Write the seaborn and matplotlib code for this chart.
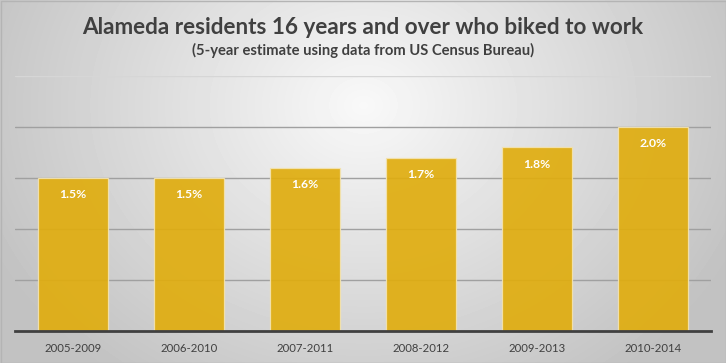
import numpy as np
import pandas as pd
import matplotlib
matplotlib.use("Agg")
import matplotlib.pyplot as plt
import seaborn as sns

# ─── Data ────────────────────────────────────────────────────────────────────
periods = ["2005-2009", "2006-2010", "2007-2011", "2008-2012", "2009-2013", "2010-2014"]
share_biked = [1.5, 1.5, 1.6, 1.7, 1.8, 2.0]   # percent of residents
bar_labels = [f"{v:.1f}%" for v in share_biked]

TITLE = "Alameda residents 16 years and over who biked to work"
SUBTITLE = "(5-year estimate using data from US Census Bureau)"

df = pd.DataFrame({"period": periods, "share": share_biked})

sns.set_theme(style="white")
plt.rcParams["font.family"] = ["Lato", "DejaVu Sans"]

W, H = 726, 363
fig = plt.figure(figsize=(W / 100, H / 100), dpi=100)

# radial grey backdrop, brightest near top centre
bg = fig.add_axes([0, 0, 1, 1], zorder=0)
yy, xx = np.mgrid[0:H, 0:W]
dist = np.sqrt(((xx - 363) / 363) ** 2 + ((yy - 105) / 300) ** 2)
shade = np.clip(0.975 - 0.19 * dist, 0.76, 1.0)
bg.imshow(shade, cmap="gray", vmin=0, vmax=1, aspect="auto",
          extent=[0, W, H, 0], interpolation="bilinear")
bg.set_xlim(0, W)
bg.set_ylim(H, 0)
bg.axis("off")
bg.add_patch(plt.Rectangle((0.5, 0.5), W - 1, H - 1, fill=False,
                           edgecolor="#b4b4b4", linewidth=1))

ax = fig.add_axes([15 / W, (H - 331) / H, (711 - 15) / W, (331 - 76) / H], zorder=1)
ax.patch.set_alpha(0)

# gridlines sit under the translucent bars
for g in [0.5, 1.0, 1.5, 2.0]:
    ax.axhline(g, color="#a0a0a0", linewidth=1.0, zorder=0.5)
ax.axhline(2.5, color="#d6d6d6", linewidth=1.0, zorder=0.5)

sns.barplot(data=df, x="period", y="share", color="#e0ad0f", width=0.6,
            saturation=1, alpha=0.92, edgecolor="#f3e3b0", linewidth=0.9,
            zorder=1, ax=ax)

ax.bar_label(ax.containers[0], labels=bar_labels, padding=-16,
             color="white", fontsize=8.8, fontweight="bold")

ax.set_ylim(0, 2.5)
ax.set_xlim(-0.5, len(periods) - 0.5)
ax.set_xlabel("")
ax.set_ylabel("")
ax.set_yticks([])
for side in ["top", "right", "left"]:
    ax.spines[side].set_visible(False)
ax.spines["bottom"].set_color("#404040")
ax.spines["bottom"].set_linewidth(2.0)
ax.spines["bottom"].set_zorder(3)
ax.tick_params(axis="x", length=0, pad=9, labelsize=8.2, labelcolor="#404040")

fig.text(0.5, (H - 34) / H, TITLE, ha="center", va="baseline",
         fontsize=16.2, fontweight="bold", color="#404040")
fig.text(0.5, (H - 55.5) / H, SUBTITLE, ha="center", va="baseline",
         fontsize=10.6, fontweight="bold", color="#404040")

fig.savefig("out.png", dpi=100)
plt.close(fig)
